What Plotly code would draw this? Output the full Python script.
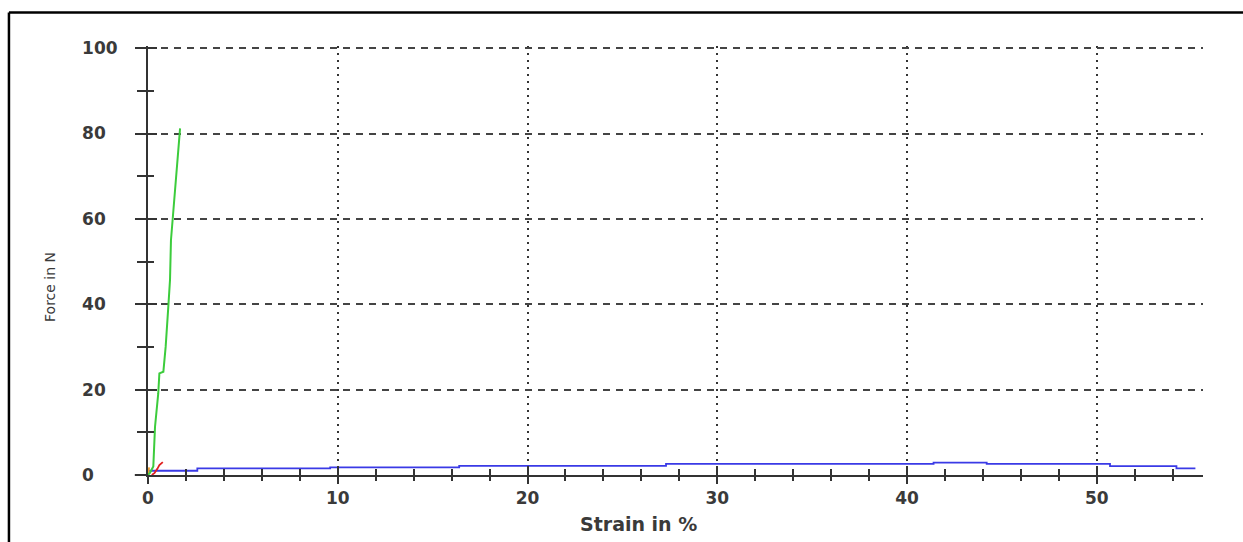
import plotly.graph_objects as go

# ---- data ----
green_strain = [0, 0.1, 0.28, 0.37, 0.54, 0.6, 0.81, 0.84, 0.93, 1.07, 1.16, 1.21, 1.34, 1.48, 1.56, 1.69]
green_force = [0, 0.5, 2.0, 11.3, 19.1, 23.8, 24.2, 25.4, 30.0, 39.4, 45.7, 55.0, 62.0, 69.9, 75.7, 81.2]

red_strain = [0.2, 0.35, 0.5, 0.6, 0.78]
red_force = [0.0, 0.5, 1.5, 2.3, 3.0]

orange_strain = [0.0, 0.03, 0.06]
orange_force = [0.0, 1.0, 1.8]

blue_strain = [0.0, 2.6, 9.6, 16.4, 27.3, 41.4, 44.2, 50.7, 54.2, 55.2]
blue_force = [1.0, 1.55, 1.8, 2.15, 2.6, 2.9, 2.6, 2.1, 1.55, 1.55]

x_ticks = [0, 10, 20, 30, 40, 50]
y_ticks = [0, 20, 40, 60, 80, 100]
y_ticktext = ["0\u2007\u2007", "20\u2007", "40\u2007", "60\u2007", "80\u2007", "100"]

X_RANGE = [0, 55.6]
Y_RANGE = [0, 100.5]

AX = "#333333"
TICKFONT = dict(family="DejaVu Sans", size=17, color="#3a3a3a", weight="bold")

fig = go.Figure()
fig.add_trace(go.Scatter(x=blue_strain, y=blue_force, mode="lines", line=dict(color="#3a3ae6", width=1.8, shape="hv"), showlegend=False))
fig.add_trace(go.Scatter(x=orange_strain, y=orange_force, mode="lines", line=dict(color="#f0a030", width=1.8), showlegend=False))
fig.add_trace(go.Scatter(x=red_strain, y=red_force, mode="lines", line=dict(color="#e02020", width=1.8), showlegend=False))
fig.add_trace(go.Scatter(x=green_strain, y=green_force, mode="lines", line=dict(color="#3ccc3c", width=2), showlegend=False))
# empty trace to create the overlay subplot used for the inner half of the tick marks
fig.add_trace(go.Scatter(x=[], y=[], xaxis="x2", yaxis="y2", showlegend=False))

fig.update_layout(
    width=1243, height=542,
    margin=dict(l=148, r=40, t=46, b=67),
    paper_bgcolor="white", plot_bgcolor="white",
    xaxis=dict(
        range=X_RANGE, tickmode="array", tickvals=x_ticks,
        showline=True, linecolor=AX, linewidth=2,
        ticks="outside", ticklen=7, tickwidth=2, tickcolor=AX,
        minor=dict(tickmode="linear", tick0=0, dtick=2, ticks="outside", ticklen=4, tickwidth=2, tickcolor=AX, showgrid=False),
        showgrid=True, gridcolor="#333333", gridwidth=2, griddash="2px,5px",
        zeroline=False, tickfont=TICKFONT, ticklabelstandoff=0,
    ),
    yaxis=dict(
        range=Y_RANGE, tickmode="array", tickvals=y_ticks, ticktext=y_ticktext,
        showline=True, linecolor=AX, linewidth=2,
        ticks="outside", ticklen=11, tickwidth=2, tickcolor=AX,
        minor=dict(tickmode="linear", tick0=0, dtick=10, ticks="outside", ticklen=9, tickwidth=2, tickcolor=AX, showgrid=False),
        showgrid=True, gridcolor="#444444", gridwidth=1.5, griddash="7px,6px",
        zeroline=False, tickfont=TICKFONT, ticklabelstandoff=14,
    ),
    xaxis2=dict(
        range=X_RANGE, overlaying="x", anchor="y2", matches="x",
        tickmode="array", tickvals=x_ticks, showticklabels=False,
        ticks="inside", ticklen=9, tickwidth=2, tickcolor=AX,
        minor=dict(tickmode="linear", tick0=0, dtick=2, ticks="inside", ticklen=6, tickwidth=2, tickcolor=AX, showgrid=False),
        showgrid=False, showline=False, zeroline=False,
    ),
    yaxis2=dict(
        range=Y_RANGE, overlaying="y", anchor="x2", matches="y",
        tickmode="array", tickvals=y_ticks, showticklabels=False,
        ticks="inside", ticklen=9, tickwidth=2, tickcolor=AX,
        minor=dict(tickmode="linear", tick0=0, dtick=10, ticks="inside", ticklen=6, tickwidth=2, tickcolor=AX, showgrid=False),
        showgrid=False, showline=False, zeroline=False,
    ),
    annotations=[
        dict(text="Strain in %", xref="paper", yref="paper", x=0.4645, y=-0.115,
             xanchor="center", yanchor="middle", showarrow=False,
             font=dict(family="DejaVu Sans", size=19, color="#3a3a3a", weight="bold")),
        dict(text="Force in N", xref="paper", yref="paper", x=-0.093, y=0.438,
             xanchor="center", yanchor="middle", showarrow=False, textangle=-90,
             font=dict(family="DejaVu Sans", size=14, color="#3a3a3a")),
    ],
    shapes=[
        # outer frame (top and left edges)
        dict(type="line", xref="paper", yref="paper", x0=-0.1318, x1=1.05, y0=1.078, y1=1.078, line=dict(color="black", width=2.5)),
        dict(type="line", xref="paper", yref="paper", x0=-0.1318, x1=-0.1318, y0=1.078, y1=-0.2, line=dict(color="black", width=2.5)),
        # axis line stubs crossing at the origin
        dict(type="line", xref="paper", yref="paper", x0=-0.0125, x1=0, y0=0, y1=0, line=dict(color=AX, width=2)),
        dict(type="line", xref="paper", yref="paper", x0=0, x1=0, y0=-0.012, y1=0, line=dict(color=AX, width=2)),
    ],
)

fig.write_html("out.html", config={"displayModeBar": False},
               post_script="document.body.style.margin='0';document.body.style.overflow='hidden';")
